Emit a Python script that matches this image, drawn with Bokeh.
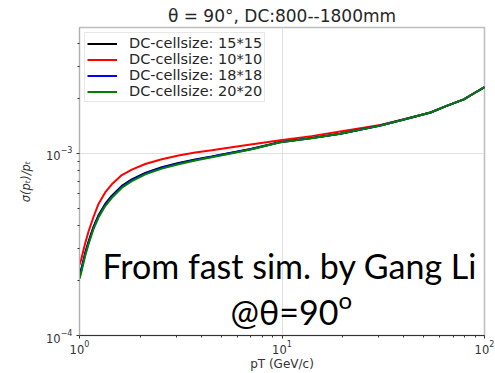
from bokeh.plotting import figure
from bokeh.models import FixedTicker, LogTickFormatter, Label, Range1d
from bokeh.embed import file_html
from bokeh.resources import INLINE

# ---- data ----
pt = [1.0, 1.02, 1.067, 1.108, 1.172, 1.241, 1.339, 1.444, 1.618, 1.813, 2.111,
      2.549, 3.083, 3.727, 4.5, 5.44, 7.0, 9.83, 14, 19.4, 30.6, 40, 54.2, 65,
      79.1, 90, 100]
res_15 = [2.12e-4, 2.31e-4, 2.84e-4, 3.28e-4, 3.95e-4, 4.57e-4, 5.27e-4, 5.85e-4,
          6.62e-4, 7.19e-4, 7.81e-4, 8.38e-4, 8.84e-4, 9.25e-4, 9.6e-4, 1.0e-3,
          1.055e-3, 1.153e-3, 1.212e-3, 1.281e-3, 1.42e-3, 1.533e-3, 1.675e-3,
          1.82e-3, 1.975e-3, 2.155e-3, 2.31e-3]
res_10 = [2.45e-4, 2.62e-4, 3.21e-4, 3.72e-4, 4.47e-4, 5.27e-4, 6.10e-4, 6.76e-4,
          7.59e-4, 8.13e-4, 8.73e-4, 9.28e-4, 9.72e-4, 1.009e-3, 1.038e-3, 1.073e-3,
          1.118e-3, 1.179e-3, 1.242e-3, 1.318e-3, 1.43e-3, 1.538e-3, 1.677e-3,
          1.82e-3, 1.975e-3, 2.15e-3, 2.30e-3]
res_18 = [2.09e-4, 2.27e-4, 2.8e-4, 3.23e-4, 3.9e-4, 4.51e-4, 5.2e-4, 5.78e-4,
          6.55e-4, 7.12e-4, 7.74e-4, 8.32e-4, 8.78e-4, 9.2e-4, 9.56e-4, 9.96e-4,
          1.052e-3, 1.151e-3, 1.211e-3, 1.28e-3, 1.42e-3, 1.533e-3, 1.675e-3,
          1.82e-3, 1.975e-3, 2.155e-3, 2.31e-3]
res_20 = [2.05e-4, 2.22e-4, 2.74e-4, 3.17e-4, 3.83e-4, 4.44e-4, 5.13e-4, 5.7e-4,
          6.47e-4, 7.04e-4, 7.66e-4, 8.24e-4, 8.71e-4, 9.13e-4, 9.5e-4, 9.91e-4,
          1.048e-3, 1.149e-3, 1.209e-3, 1.279e-3, 1.418e-3, 1.533e-3, 1.675e-3,
          1.82e-3, 1.975e-3, 2.155e-3, 2.31e-3]

series_labels = ["DC-cellsize: 15*15", "DC-cellsize: 10*10",
                 "DC-cellsize: 18*18", "DC-cellsize: 20*20"]
series_colors = ["#000000", "#ff0000", "#0000ff", "#008000"]

x_major = [1, 10, 100]
x_minor = [2, 3, 4, 5, 6, 7, 8, 9, 20, 30, 40, 50, 60, 70, 80, 90]
y_major = [1e-4, 1e-3]
y_minor = [2e-4, 3e-4, 4e-4, 5e-4, 6e-4, 7e-4, 8e-4, 9e-4, 2e-3, 3e-3, 4e-3]

title_text = "θ = 90°, DC:800--1800mm"
x_label = "pT (GeV/c)"
y_label = "σ(pₜ)/pₜ"

p = figure(width=495, height=373, x_axis_type="log", y_axis_type="log",
           x_range=Range1d(1, 100), y_range=Range1d(1e-4, 4.9e-3),
           output_backend="svg", toolbar_location=None,
           min_border_left=79, min_border_right=11,
           min_border_top=27, min_border_bottom=32)

p.title.text = title_text
p.title.align = "center"
p.title.text_font = "DejaVu Sans"
p.title.text_font_size = "17px"
p.title.text_font_style = "normal"
p.title.text_color = "#262626"
p.title.standoff = 3

for ys, lab, col in zip([res_15, res_10, res_18, res_20], series_labels, series_colors):
    p.line(pt, ys, line_color=col, line_width=2, legend_label=lab)

# axes
p.xaxis.ticker = FixedTicker(ticks=x_major, minor_ticks=x_minor)
p.yaxis.ticker = FixedTicker(ticks=y_major, minor_ticks=y_minor)
p.xaxis.formatter = LogTickFormatter()
p.yaxis.formatter = LogTickFormatter()
p.xgrid.ticker = p.xaxis[0].ticker
p.ygrid.ticker = p.yaxis[0].ticker
for ax in (p.xaxis, p.yaxis):
    ax.major_label_text_font = "DejaVu Sans"
    ax.major_label_text_font_size = "11.5px"
    ax.major_label_text_color = "#333333"
    ax.major_tick_out = 3
    ax.major_tick_in = 0
    ax.minor_tick_out = 2
    ax.minor_tick_in = 0
    ax.major_tick_line_color = "#333333"
    ax.minor_tick_line_color = "#333333"
    ax.axis_label_text_font = "DejaVu Sans"
    ax.axis_label_text_color = "#333333"
p.xaxis.axis_label = x_label
p.xaxis.axis_label_text_font_size = "12px"
p.xaxis.axis_label_text_font_style = "normal"
p.xaxis.axis_label_standoff = 0
p.yaxis.axis_label = y_label
p.yaxis.axis_label_text_font_size = "11.5px"
p.yaxis.axis_label_text_font_style = "italic"
p.yaxis.axis_label_standoff = 10
p.xaxis.axis_line_color = "#333333"
p.yaxis.axis_line_color = "#b0b0b0"
p.xaxis.major_label_standoff = 1
p.yaxis.major_label_standoff = 4

p.xgrid.grid_line_color = "#e0e0e0"
p.ygrid.grid_line_color = "#e0e0e0"
p.xgrid.minor_grid_line_color = None
p.ygrid.minor_grid_line_color = None
p.outline_line_color = "#bdbdbd"
p.outline_line_width = 1.5

# legend
lg = p.legend[0]
lg.location = "top_left"
lg.margin = 5
lg.padding = 2
lg.spacing = 0
lg.label_height = 15
lg.glyph_height = 15
lg.glyph_width = 30
lg.label_standoff = 12
lg.label_text_font = "DejaVu Sans"
lg.label_text_font_size = "14.5px"
lg.label_text_line_height = 1.0
lg.label_text_color = "#262626"
lg.border_line_color = "#d0d0d0"
lg.background_fill_alpha = 0.8

# overlay annotation (frame-relative screen units)
p.add_layout(Label(x=23, y=70, x_units="screen", y_units="screen",
                   text="From fast sim. by Gang Li", text_font="Lato",
                   text_font_size="34px", text_baseline="alphabetic",
                   text_color="#000000"))
p.add_layout(Label(x=151, y=24, x_units="screen", y_units="screen",
                   text="@θ=90", text_font="Lato",
                   text_font_size="34px", text_baseline="alphabetic",
                   text_color="#000000"))
p.add_layout(Label(x=259, y=36, x_units="screen", y_units="screen",
                   text="o", text_font="Lato",
                   text_font_size="24px", text_baseline="alphabetic",
                   text_color="#000000"))

open("out.html", "w").write(file_html(p, INLINE))
